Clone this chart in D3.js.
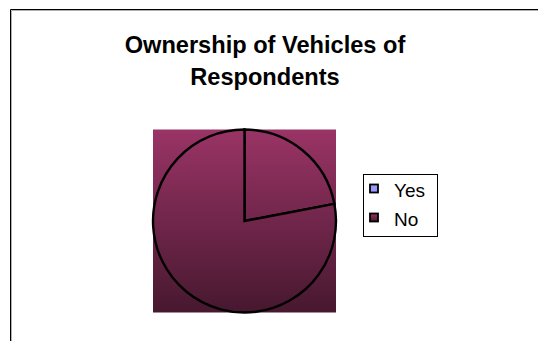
<!DOCTYPE html>
<html>
<head>
<meta charset="utf-8">
<script src="https://cdn.jsdelivr.net/npm/d3@7"></script>
<style>
  html, body { margin: 0; padding: 0; background: #fff; }
  svg { display: block; }
</style>
</head>
<body>
<svg id="chart" width="538" height="341"></svg>
<script>
// Vehicle ownership among respondents (percent)
const categories = ["Yes", "No"];
const shares = [22, 78];
const legendColors = ["#9999ff", "url(#legendNo)"];
const titleLines = ["Ownership of Vehicles of", "Respondents"];

const svg = d3.select("#chart");
const W = 538, H = 341;

const cx = 244.5, cy = 221, r = 91.5;

const defs = svg.append("defs");
// vertical shading, expressed in the pie group's local coordinates
const grad = defs.append("linearGradient")
  .attr("id", "plotGrad")
  .attr("gradientUnits", "userSpaceOnUse")
  .attr("x1", 0).attr("x2", 0).attr("y1", -r).attr("y2", r);
grad.append("stop").attr("offset", "0%").attr("stop-color", "#9a3466");
grad.append("stop").attr("offset", "100%").attr("stop-color", "#47182f");

const lg = defs.append("linearGradient")
  .attr("id", "legendNo").attr("x1", 0).attr("x2", 0).attr("y1", 0).attr("y2", 1);
lg.append("stop").attr("offset", "0%").attr("stop-color", "#9a3466");
lg.append("stop").attr("offset", "100%").attr("stop-color", "#4a1830");

// chart frame (open to the right and bottom of the window)
svg.append("path")
  .attr("d", `M11.5,${H} V10.5 H${W}`)
  .attr("fill", "none").attr("stroke", "#b0b0b0").attr("stroke-width", 1);
svg.append("path")
  .attr("d", `M10.5,${H} V9.5 H${W}`)
  .attr("fill", "none").attr("stroke", "#000").attr("stroke-width", 1);

// title
svg.append("text")
  .attr("x", 265).attr("y", 53)
  .attr("text-anchor", "middle")
  .style("font-family", "'Liberation Sans', Arial, sans-serif")
  .style("font-weight", "bold")
  .style("font-size", "23.6px")
  .selectAll("tspan")
  .data(titleLines)
  .join("tspan")
  .attr("x", 265)
  .attr("dy", (d, i) => i === 0 ? 0 : 32)
  .text(d => d);

// pie on a shaded square backdrop
const pieG = svg.append("g").attr("transform", `translate(${cx},${cy})`);
pieG.append("rect")
  .attr("x", -r).attr("y", -r)
  .attr("width", 2 * r).attr("height", 2 * r)
  .attr("fill", "url(#plotGrad)");

const pie = d3.pie().sort(null).value(d => d)(shares);
const arc = d3.arc().innerRadius(0).outerRadius(r);
pieG.selectAll("path")
  .data(pie)
  .join("path")
  .attr("d", arc)
  .attr("fill", "url(#plotGrad)")
  .attr("stroke", "#000")
  .attr("stroke-width", 2.4)
  .attr("stroke-linejoin", "miter");

// legend
const legend = svg.append("g");
legend.append("rect")
  .attr("x", 363.5).attr("y", 174.5)
  .attr("width", 74).attr("height", 62)
  .attr("fill", "#fff").attr("stroke", "#000").attr("stroke-width", 1);

const items = legend.selectAll("g.item")
  .data(categories)
  .join("g")
  .attr("class", "item")
  .attr("transform", (d, i) => `translate(0,${i * 29})`);
items.append("rect")
  .attr("x", 370).attr("y", 184.5)
  .attr("width", 8).attr("height", 8)
  .attr("fill", (d, i) => legendColors[i])
  .attr("stroke", "#000").attr("stroke-width", 1.8);
items.append("text")
  .attr("x", 394).attr("y", 197)
  .style("font-family", "'Liberation Sans', Arial, sans-serif")
  .style("font-size", "19px")
  .text(d => d);
</script>
</body>
</html>
